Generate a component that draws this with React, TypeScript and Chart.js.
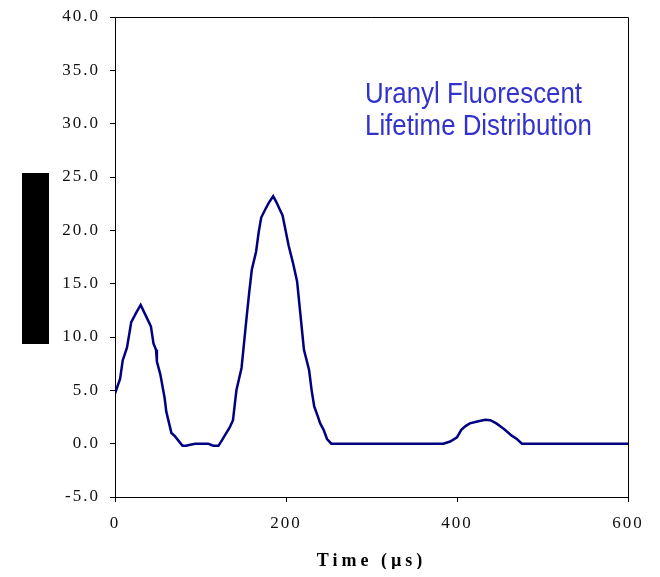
import React, { useEffect, useRef } from "react";
import { Chart, registerables } from "chart.js";

Chart.register(...registerables);

const timeValues: number[] = [
  0, 6, 9, 14, 19, 25, 30, 36, 42, 45, 48, 49, 53, 58, 60, 63, 66, 70, 73, 76,
  79, 83, 88, 94, 100, 105, 109, 112, 115, 121, 125, 129, 134, 138, 142, 148,
  151, 154, 157, 160, 165, 168, 171, 176, 180, 185, 189, 193, 196, 200, 203,
  208, 213, 217, 221, 227, 230, 233, 237, 240, 244, 248, 253, 384, 392, 400,
  405, 410, 415, 425, 433, 439, 446, 451, 456, 464, 470, 476, 600,
];

const distributionValues: number[] = [
  4.7, 6.1, 7.8, 9.0, 11.4, 12.3, 13.0, 12.0, 11.0, 9.4, 8.8, 7.7, 6.5, 4.3,
  3.0, 2.0, 1.0, 0.7, 0.4, 0.1, -0.2, -0.2, -0.1, 0.0, 0.0, 0.0, 0.0, -0.1,
  -0.2, -0.2, 0.3, 0.84, 1.5, 2.2, 5.0, 7.1, 9.5, 11.9, 14.2, 16.3, 18.0,
  19.8, 21.2, 22.0, 22.6, 23.2, 22.6, 21.9, 21.4, 19.8, 18.6, 17.0, 15.2,
  12.0, 8.8, 6.9, 5.0, 3.5, 2.6, 1.9, 1.3, 0.44, 0.0, 0.0, 0.2, 0.6, 1.3,
  1.65, 1.9, 2.1, 2.24, 2.2, 1.9, 1.6, 1.3, 0.75, 0.44, 0.0, 0.0,
];

const annotationLines: string[] = ["Uranyl Fluorescent", "Lifetime Distribution"];
const xTitle = "Time (\u00b5s)";

export default function App() {
  const canvasRef = useRef<HTMLCanvasElement | null>(null);

  useEffect(() => {
    const canvas = canvasRef.current;
    if (!canvas) return;

    const decorPlugin = {
      id: "decor",
      beforeDraw(chart: any) {
        chart.ctx.letterSpacing = "4px";
      },
      beforeDatasetsDraw(chart: any) {
        chart.ctx.letterSpacing = "2px";
      },
      afterDraw(chart: any) {
        const ctx = chart.ctx;
        const a = chart.chartArea;
        ctx.save();
        ctx.letterSpacing = "0px";
        ctx.strokeStyle = "#000";
        ctx.lineWidth = 1;
        ctx.beginPath();
        ctx.moveTo(a.left, a.top + 0.5);
        ctx.lineTo(a.right + 0.5, a.top + 0.5);
        ctx.lineTo(a.right + 0.5, a.bottom);
        ctx.stroke();
        ctx.fillStyle = "#000";
        ctx.fillRect(14, 165, 27, 171);
        ctx.fillStyle = "#3333CC";
        ctx.font = "30px 'Liberation Sans', Arial, sans-serif";
        ctx.textAlign = "left";
        ctx.textBaseline = "alphabetic";
        ctx.fillText(annotationLines[0], 357, 95, 217);
        ctx.fillText(annotationLines[1], 357, 127, 227);
        ctx.restore();
      },
    };

    const tickFont = {
      family: "'Liberation Serif', 'Times New Roman', serif",
      size: 17,
      lineHeight: 1.06,
    };

    const chart = new Chart(canvas, {
      type: "line",
      data: {
        datasets: [
          {
            data: timeValues.map((t, i) => ({ x: t, y: distributionValues[i] })),
            borderColor: "#000080",
            borderWidth: 2.5,
            pointRadius: 0,
            tension: 0,
            fill: false,
          },
        ],
      },
      options: {
        animation: false,
        responsive: true,
        maintainAspectRatio: false,
        layout: { padding: { top: 0, right: 24, left: 0, bottom: 0 } },
        plugins: {
          legend: { display: false },
          tooltip: { enabled: false },
        },
        scales: {
          x: {
            type: "linear",
            min: 0,
            max: 600,
            afterFit(scale: any) {
              scale.height = 72;
              scale.paddingLeft = 0;
              scale.paddingRight = 0;
            },
            ticks: {
              stepSize: 200,
              color: "#111",
              font: tickFont,
              padding: 13,
              maxRotation: 0,
              z: 1,
            },
            grid: {
              display: true,
              drawOnChartArea: false,
              drawTicks: true,
              tickLength: 5,
              color: "#000",
            },
            border: { display: true, color: "#000", width: 1 },
            title: {
              display: true,
              text: xTitle,
              color: "#000",
              font: {
                family: "'Liberation Serif', 'Times New Roman', serif",
                size: 18,
                weight: "bold",
                lineHeight: 0.8,
              },
              padding: { top: 0, bottom: 0 },
            },
          },
          y: {
            min: -5,
            max: 40,
            afterFit(scale: any) {
              scale.width = 107;
              scale.paddingTop = 9;
              scale.paddingBottom = 0;
            },
            ticks: {
              stepSize: 5,
              color: "#111",
              font: tickFont,
              padding: 10,
              z: 1,
              callback: (v: any) => Number(v).toFixed(1),
            },
            grid: {
              display: true,
              drawOnChartArea: false,
              drawTicks: true,
              tickLength: 5,
              color: "#000",
            },
            border: { display: true, color: "#000", width: 1 },
          },
        },
      } as any,
      plugins: [decorPlugin],
    });

    return () => chart.destroy();
  }, []);

  return (
    <div style={{ width: 644, height: 561, position: "relative" }}>
      <canvas ref={canvasRef} />
    </div>
  );
}
